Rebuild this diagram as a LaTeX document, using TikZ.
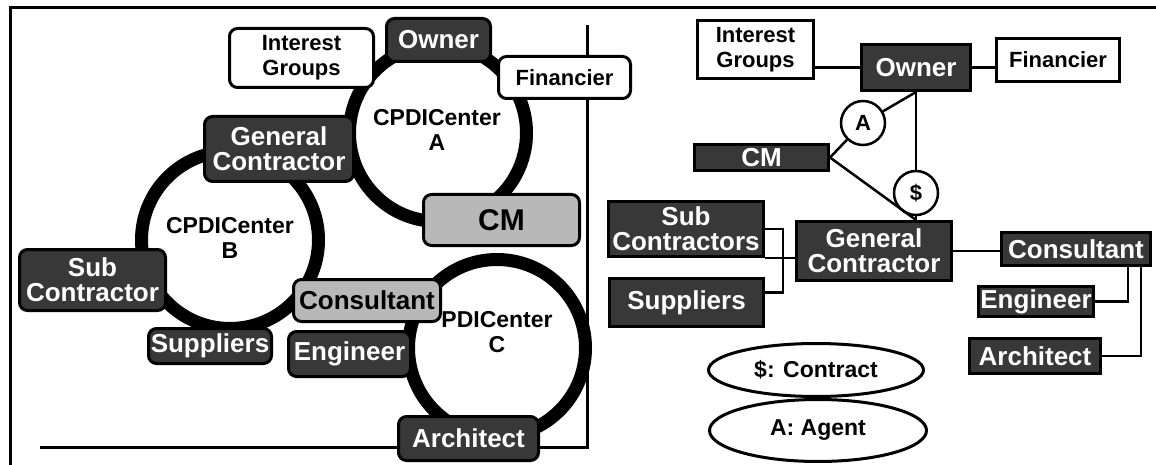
\documentclass[tikz,border=0pt]{standalone}
\usepackage{fontspec}
\setmainfont{Liberation Sans}
\usetikzlibrary{shapes.geometric}

\begin{document}
\begin{tikzpicture}
  [x=1pt,y=-1pt,
   every node/.style={font=\bfseries\fontsize{22}{25}\selectfont,align=center,inner sep=0pt,line width=3pt},
   whiteL/.style={draw,fill=white,rounded corners=8pt},
   darkL/.style={draw,fill=black!78,text=white,rounded corners=8pt,font=\bfseries\fontsize{26}{25}\selectfont},
   greyL/.style={draw,fill=black!28,rounded corners=8pt,font=\bfseries\fontsize{26}{25}\selectfont},
   whiteR/.style={draw,fill=white},
   darkR/.style={draw,fill=black!78,text=white,font=\bfseries\fontsize{26}{25}\selectfont},
   ring/.style={circle,draw,fill=white,line width=13pt,minimum size=177pt},
   ctrtext/.style={font=\bfseries\fontsize{23}{25}\selectfont},
   agentdot/.style={circle,draw,fill=white,minimum size=44pt,line width=2.5pt},
   legend/.style={ellipse,draw,fill=white,font=\bfseries\fontsize{23}{26}\selectfont},
   wire/.style={line width=2.5pt}]
  \useasboundingbox (0,0) rectangle (1156,465);

  % frame and divider
  \draw[line width=3pt] (10,465) -- (10,8) -- (1156,8);
  \draw[line width=3pt] (587,25) -- (587,447) -- (40,447);

  % left: the three centers
  \node[ring] (ringA) at (438,133) {};
  \node[ring] (ringB) at (230,240) {};
  \node[ring] (ringC) at (497,348) {};
  \node[ctrtext] (txtA) at (437,130) {CPDICenter\\A};
  \node[ctrtext] (txtB) at (230,238) {CPDICenter\\B};
  \node[ctrtext] (txtC) at (497,332) {PDICenter\\C};

  \node[whiteL,minimum width=144pt,minimum height=59pt] (igL)    at (301.5,58)  {Interest\\Groups};
  \node[darkL, minimum width=104pt,minimum height=43pt] (ownerL) at (438.5,40)  {Owner};
  \node[whiteL,minimum width=132pt,minimum height=42pt] (finL)   at (564.5,77.5) {Financier};
  \node[darkL, minimum width=149pt,minimum height=65pt] (gcL)    at (279,149)   {General\\Contractor};
  \node[greyL, minimum width=156pt,minimum height=51pt,font=\bfseries\fontsize{30}{30}\selectfont] (cmL) at (501.5,220) {CM};
  \node[darkL, minimum width=146pt,minimum height=61pt] (subL)   at (92.5,280)  {Sub\\Contractor};
  \node[greyL, minimum width=147pt,minimum height=42pt] (consL)  at (367,300.5) {Consultant};
  \node[darkL, minimum width=123pt,minimum height=35pt] (supL)   at (210,346)   {Suppliers};
  \node[darkL, minimum width=122pt,minimum height=45pt] (engL)   at (349.5,354) {Engineer};
  \node[darkL, minimum width=140pt,minimum height=44pt] (archL)  at (468.5,438.5) {Architect};

  % right: relations
  \node[whiteR,minimum width=116pt,minimum height=58pt] (igR)    at (755.5,49.5) {Interest\\Groups};
  \node[darkR, minimum width=109pt,minimum height=46pt] (ownerR) at (916,67.5)  {Owner};
  \node[whiteR,minimum width=123pt,minimum height=43pt] (finR)   at (1058,60)   {Financier};
  \node[agentdot] (agA)  at (863,123) {A};
  \node[darkR, minimum width=134pt,minimum height=26pt] (cmR)    at (761.5,157.5) {CM};
  \node[agentdot] (conS) at (916,193) {\$};
  \node[darkR, minimum width=155pt,minimum height=59pt] (gcR)    at (874,251)   {General\\Contractor};
  \node[darkR, minimum width=155pt,minimum height=55pt] (subR)   at (686,229)   {Sub\\Contractors};
  \node[darkR, minimum width=154pt,minimum height=48pt] (supR)   at (686.5,302.5) {Suppliers};
  \node[darkR, minimum width=149pt,minimum height=33pt] (consR)  at (1076,249)  {Consultant};
  \node[darkR, minimum width=115pt,minimum height=30pt] (engR)   at (1036,301.5) {Engineer};
  \node[darkR, minimum width=131pt,minimum height=35pt] (archR)  at (1035,356)  {Architect};
  \node[legend,minimum width=215pt,minimum height=53pt] (keyS)   at (816,370)   {\$: Contract};
  \node[legend,minimum width=217pt,minimum height=62pt] (keyA)   at (818,430.5) {A: Agent};

  \coordinate (gcTop) at (gcR.north -| conS);
  \coordinate (bus) at (783,260);

  \foreach \from/\to in {ownerR.south/agA,agA/cmR.east,ownerR.south/conS,conS/gcTop,cmR.east/gcTop}
    \draw[wire] (\from) -- (\to);

  \draw[wire] (ownerR.west -| igR.east) -- (ownerR.west);
  \draw[wire] (ownerR.east) -- (ownerR.east -| finR.west);
  \draw[wire] (subR.east) -| (bus) |- ([yshift=10pt]supR.east);
  \draw[wire] (subR.south east) -- (subR.south east -| gcR.west);
  \draw[wire] (gcR.east) -- (gcR.east -| consR.west);
  \draw[wire] (engR.east) -| ([xshift=52pt]consR.south);
  \draw[wire] (archR.east) -| ([xshift=65pt]consR.south);

\end{tikzpicture}
\end{document}
